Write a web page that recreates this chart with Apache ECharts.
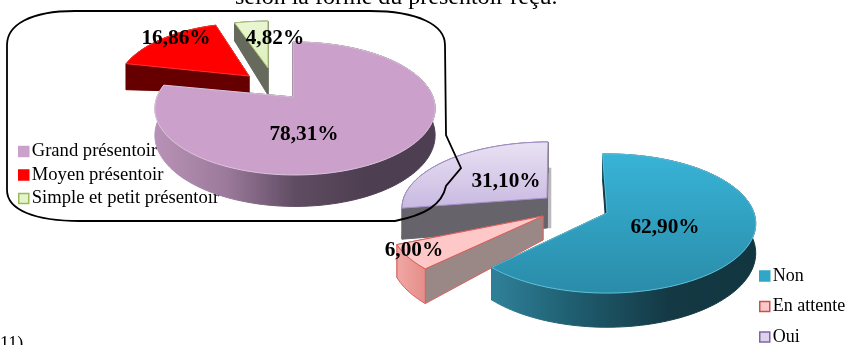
<!DOCTYPE html>
<html><head><meta charset="utf-8">
<style>html,body{margin:0;padding:0;background:#fff}#c{width:846px;height:345px}</style>
<script src="https://cdn.jsdelivr.net/npm/echarts@6/dist/echarts.min.js"></script>
</head><body><div id="c"></div>
<script>
// DATA
const formCategories = ['Grand présentoir', 'Moyen présentoir', 'Simple et petit présentoir'];
const formValues = [78.31, 16.86, 4.82];
const answerCategories = ['Non', 'En attente', 'Oui'];
const answerValues = [62.90, 6.00, 31.10];
const titleText = 'selon la forme du présentoir reçu.';
const footText = '11)';

// LAYOUT (3D projection of each slice, not data)
const G = (x0, y0, x1, y1, stops) => new echarts.graphic.LinearGradient(x0, y0, x1, y1, stops.map((c, i) => ({offset: i / (stops.length - 1), color: c})), true);
const formStyle = [
  {ax:293, ay:97, cx:295, cy:97, rx:138, ry:64.5, k:.173, rot:-1, sweep:1, dA:26, dB:26,
   top:'#CBA0CA', edge:'#DCC3DC', wall:'#4d3d50', rim:G(156,0,435,0,['#B892B6','#9C7A9C','#5F4C62','#4E3E51','#4E3E51']),
   legend:{color:'#CBA0CA', borderColor:'#CBA0CA'}, label:[304,134]},
  {cx:249, cy:76, rx:130, ry:62, k:.173, rot:0, sweep:1, dA:17, dB:27,
   top:'#FF0000', edge:'#FF3030', wall:'#660000', rim:'#660000',
   legend:{color:'#FF0000', borderColor:'#FF0000'}, label:[176,38]},
  {cx:268, cy:68, rx:130, ry:55, k:.173, rot:0, sweep:1, dA:27, dB:21,
   top:G(0,20,0,68,['#EAF6D2','#DDF0BC']), edge:'#A9C46C', wall:'#666A5C', rim:'#666A5C',
   legend:{color:'#E6F3CC', borderColor:'#9BBB59'}, label:[275,38]}
];
const answerStyle = [
  {cx:607, cy:213, rx:147, ry:68, k:.151, rot:-2, sweep:1, dA:27, dB:29,
   top:G(0,154,0,293,['#38B3D6','#2A8CA9']), edge:'#5CC0DC', wall:'#123944', rim:G(494,0,756,0,['#2E8098','#1E5A6C','#143944','#123640']),
   legend:{color:'#31A6C7', borderColor:'#31A6C7'}, label:[665,227]},
  {cx:543, cy:216, rx:150, ry:66, k:.151, rot:-2, sweep:1, dA:24, dB:31,
   top:'#FFC8C8', edge:'#D9605C', wallEdge:'#D9605C', wall:'#998886', rim:G(397,0,425,0,['#F0A8A4','#E58D89']),
   legend:{color:'#FFC8C8', borderColor:'#C9504C'}, label:[414,250]},
  {ax:547, ay:198, cx:548, cy:208, rx:146, ry:66, k:0, rot:0, sweep:.805, dA:30, dB:31,
   top:G(0,142,0,210,['#E9E2F4','#C8B8E0']), edge:'#A48CCB', wall:'#67636B', rim:'#67636B',
   back:{w:4, up:30, down:30, color:'#BDB8C0'},
   legend:{color:'#DCD2EC', borderColor:'#8064A2'}, label:[506,181]}
];

function sliceElements(angles, s) {
  const th2 = angles[1] + s.rot;
  const th1 = th2 - (angles[1] - angles[0]) * s.sweep;
  const ax = s.ax == null ? s.cx : s.ax, ay = s.ay == null ? s.cy : s.ay;
  const proj = (deg) => {
    const t = deg * Math.PI / 180, u = Math.sin(t), v = -Math.cos(t), w = 1 - s.k * v;
    return {x: s.cx + s.rx * u / w, y: s.cy + s.ry * v / w, w};
  };
  const arc = [];
  const steps = Math.max(4, Math.ceil((th2 - th1) / 2));
  for (let i = 0; i <= steps; i++) arc.push(proj(th1 + (th2 - th1) * i / steps));
  const top = arc.map(p => [p.x, p.y]);
  const low = arc.map(p => [p.x, p.y + s.dB / p.w]);
  const a = arc[0], b = arc[arc.length - 1];
  const poly = (points, fill, stroke, lw) => ({type:'polygon', shape:{points}, style:{fill, stroke: stroke || fill, lineWidth: lw || .6}});
  const els = [];
  if (s.back) els.push(poly([[ax,ay-s.back.up],[ax+s.back.w,ay-s.back.up],[ax+s.back.w,ay+s.back.down],[ax,ay+s.back.down]], s.back.color));
  els.push(
    poly([[b.x,b.y],[ax,ay],[ax,ay+s.dA],[b.x,b.y+s.dB/b.w]], s.wall, s.wallEdge, 1),
    poly([[a.x,a.y],[ax,ay],[ax,ay+s.dA],[a.x,a.y+s.dB/a.w]], s.wall, s.wallEdge, 1),
    poly(top.concat(low.slice().reverse()), s.rim, s.wallEdge, 1),
    poly(top.concat([[ax,ay]]), s.top, s.edge, 1)
  );
  return els;
}

function pieSeries(names, values, styles, z) {
  let cum = 0;
  return names.map((name, i) => {
    const from = cum / 100 * 360; cum += values[i];
    const to = cum / 100 * 360;
    return {
      type:'custom', name, coordinateSystem:'none', silent:true, animation:false, z: z + (names.length - i),
      data:[[values[i]]],
      renderItem: () => ({type:'group', children: sliceElements([from, to], styles[i])})
    };
  });
}
const fmt = v => v.toFixed(2).replace('.', ',') + '%';
const labelSeries = {
  type:'custom', name:'labels', coordinateSystem:'none', silent:true, animation:false, z:50,
  data: formValues.map((v,i)=>[v, formStyle[i].label[0], formStyle[i].label[1]])
    .concat(answerValues.map((v,i)=>[v, answerStyle[i].label[0], answerStyle[i].label[1]])),
  renderItem: (p, api) => ({type:'text', x: api.value(1), y: api.value(2), style:{
    text: fmt(api.value(0)), fill:'#000', align:'center', verticalAlign:'middle',
    font:'bold 21.3px "Liberation Serif"'}})
};
const calloutSeries = {
  type:'custom', name:'callout', coordinateSystem:'none', silent:true, animation:false, z:40,
  data:[[0]],
  renderItem: () => ({type:'path', shape:{
    pathData:'M75 11 L370 11 C418 11 445 25 445 45 L446 135 L461 168 L446 186 C442 205 425 215 395 221 L80 221 C35 221 7 210 7 190 L7 45 C7 25 30 11 75 11 Z',
    x:7, y:11, width:454, height:210, layout:'cover'}, style:{fill:'none', stroke:'#000', lineWidth:1.8}})
};
const legendBase = {orient:'vertical', padding:0, icon:'rect', itemWidth:10, itemHeight:10, selectedMode:false,
  textStyle:{fontFamily:'Liberation Serif', fontSize:18, color:'#000', padding:[0,0,0,-2]}};

const chart = echarts.init(document.getElementById('c'));
chart.setOption({
  animation:false, backgroundColor:'#fff',
  title:{text:titleText, left:235, top:-14, padding:0, textStyle:{fontFamily:'Liberation Serif', fontWeight:'normal', fontSize:24, color:'#000'}},
  legend:[
    Object.assign({}, legendBase, {left:18, top:142, height:100, itemGap:4.5,
      textStyle:Object.assign({}, legendBase.textStyle, {fontSize:18.6}),
      data: formCategories.map((n,i)=>({name:n, itemStyle:Object.assign({borderWidth:1.5}, formStyle[i].legend)}))}),
    Object.assign({}, legendBase, {left:759, top:267, height:120, itemGap:12.5,
      data: answerCategories.map((n,i)=>({name:n, itemStyle:Object.assign({borderWidth:1.5}, answerStyle[i].legend)}))})
  ],
  graphic:[
    {type:'text', left:0, top:335, z:40, silent:true, style:{text:footText, fill:'#000', font:'18px "Liberation Serif"'}}
  ],
  series: pieSeries(answerCategories, answerValues, answerStyle, 2)
    .concat(pieSeries(formCategories, formValues, formStyle, 20))
    .concat([calloutSeries, labelSeries])
});
</script></body></html>
